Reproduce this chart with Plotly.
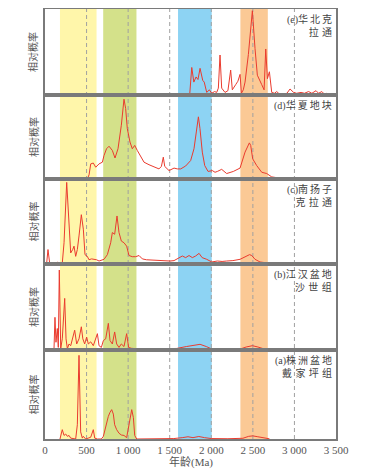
import plotly.graph_objects as go
from plotly.subplots import make_subplots

# ---- data (age in Ma, relative probability 0..1 of panel height) ----
e_age = [1740, 1765, 1790, 1817, 1840, 1865, 1897, 1915, 1945, 1977, 2005, 2040, 2065, 2085,
         2105, 2125, 2165, 2200, 2233, 2253, 2293, 2320, 2346, 2362, 2385, 2406, 2446, 2494,
         2526, 2554, 2607, 2635, 2655, 2675, 2699, 2727, 2760, 2787, 2820, 2867, 2910, 2947,
         2990, 3027, 3080, 3120, 3170, 3210, 3260, 3290, 3330, 3360, 3389]
e_val = [0.0, 0.32, 0.15, 0.21, 0.18, 0.31, 0.17, 0.15, 0.03, 0.06, 0.02, 0.04, 0.03, 0.08,
         0.465, 0.08, 0.03, 0.05, 0.29, 0.06, 0.12, 0.16, 0.24, 0.02, 0.06, 0.15, 0.47, 0.98,
         0.54, 0.23, 0.12, 0.06, 0.535, 0.19, 0.27, 0.03, 0.02, 0.04, 0.01, 0.01, 0.02, 0.07,
         0.03, 0.02, 0.03, 0.02, 0.04, 0.02, 0.05, 0.02, 0.04, 0.01, 0.02]

d_age = [509, 530, 550, 581, 610, 650, 690, 710, 740, 770, 810, 842, 878, 918, 950, 970, 990,
         1022, 1050, 1079, 1110, 1151, 1191, 1251, 1311, 1371, 1400, 1423, 1440, 1492, 1552,
         1592, 1632, 1692, 1752, 1792, 1820, 1845, 1864, 1892, 1921, 1961, 2013, 2045, 2073,
         2125, 2185, 2265, 2346, 2406, 2458, 2474, 2498, 2546, 2607, 2667, 2727, 2827, 2950,
         3050, 3200, 3300, 3460]
d_val = [0.0, 0.05, 0.18, 0.19, 0.14, 0.18, 0.20, 0.28, 0.36, 0.39, 0.34, 0.25, 0.36, 0.64,
         0.95, 0.84, 0.60, 0.44, 0.36, 0.40, 0.34, 0.26, 0.20, 0.17, 0.14, 0.12, 0.15, 0.26,
         0.15, 0.10, 0.13, 0.12, 0.12, 0.155, 0.22, 0.36, 0.56, 0.74, 0.60, 0.32, 0.16, 0.09,
         0.10, 0.08, 0.09, 0.115, 0.065, 0.09, 0.13, 0.32, 0.43, 0.40, 0.24, 0.16, 0.08, 0.065,
         0.025, 0.01, 0.015, 0.01, 0.015, 0.01, 0.005]

c_age = [0, 20, 36, 56, 100, 150, 208, 229, 261, 289, 309, 333, 349, 369, 389, 409, 437, 461,
         481, 509, 529, 560, 589, 620, 650, 710, 750, 790, 810, 838, 866, 890, 918, 950, 982,
         1010, 1050, 1091, 1131, 1171, 1220, 1271, 1330, 1392, 1450, 1504, 1552, 1612, 1652,
         1692, 1732, 1772, 1812, 1853, 1890, 1945, 2005, 2073, 2130, 2185, 2260, 2346, 2400,
         2426, 2460, 2487, 2526, 2586, 2647, 2707, 2800, 2950, 3100, 3188]
c_val = [0.01, 0.01, 0.17, 0.01, 0.01, 0.02, 0.01, 0.25, 0.96, 0.45, 0.13, 0.17, 0.21, 0.09,
         0.17, 0.33, 0.58, 0.41, 0.11, 0.09, 0.05, 0.06, 0.055, 0.05, 0.035, 0.055, 0.11, 0.25,
         0.37, 0.35, 0.565, 0.37, 0.27, 0.25, 0.21, 0.10, 0.086, 0.086, 0.10, 0.06, 0.05, 0.047,
         0.04, 0.036, 0.04, 0.035, 0.04, 0.075, 0.094, 0.075, 0.10, 0.075, 0.094, 0.125, 0.075,
         0.055, 0.024, 0.035, 0.03, 0.035, 0.04, 0.055, 0.08, 0.10, 0.11, 0.10, 0.055, 0.024,
         0.016, 0.008, 0.01, 0.008, 0.01, 0.008]

b_age = [108, 120, 132, 148, 160, 172, 189, 208, 237, 253, 269, 289, 309, 329, 357, 381, 409,
         437, 455, 477, 501, 521, 550, 581, 610, 630, 650, 678, 702, 730, 762, 782, 810, 838,
         862, 890, 918, 950, 982, 1006, 1038, 1151, 1271, 1400, 1520, 1584, 1700, 1800, 1865,
         1940, 2005, 2100, 2250, 2350, 2420, 2494, 2560, 2650, 2700]
b_val = [0.0, 0.38, 0.09, 0.25, 0.03, 0.93, 0.015, 0.13, 0.60, 0.13, 0.015, 0.07, 0.05, 0.13,
         0.23, 0.07, 0.13, 0.27, 0.13, 0.07, 0.15, 0.07, 0.095, 0.05, 0.13, 0.19, 0.05, 0.03,
         0.11, 0.13, 0.31, 0.11, 0.07, 0.21, 0.07, 0.03, 0.07, 0.04, 0.19, 0.03, 0.02, 0.01,
         0.01, 0.012, 0.015, 0.018, 0.04, 0.06, 0.066, 0.04, 0.012, 0.008, 0.008, 0.012, 0.035,
         0.05, 0.035, 0.008, 0.005]

a_age = [180, 208, 229, 249, 269, 289, 309, 369, 389, 409, 429, 449, 461, 489, 520, 550, 581,
         598, 630, 678, 702, 730, 762, 782, 802, 822, 838, 862, 890, 918, 950, 982, 1010, 1043,
         1063, 1079, 1103, 1300, 1550, 1650, 1720, 1780, 1850, 1920, 2000, 2200, 2380, 2450,
         2500, 2560, 2650, 2700]
a_val = [0.0, 0.105, 0.04, 0.056, 0.03, 0.04, 0.01, 0.0, 0.16, 0.94, 0.08, 0.01, 0.03, 0.0,
         0.01, 0.02, 0.105, 0.01, 0.0, 0.0, 0.03, 0.14, 0.255, 0.30, 0.33, 0.28, 0.16, 0.105,
         0.065, 0.045, 0.04, 0.015, 0.16, 0.33, 0.24, 0.04, 0.0, 0.003, 0.005, 0.015, 0.025,
         0.015, 0.028, 0.015, 0.005, 0.003, 0.008, 0.03, 0.035, 0.025, 0.005, 0.002]

# panel captions, (first line, second line)
panel_labels = [('(e)华北克', '拉通'), ('(d)华夏地块', ''), ('(c)南扬子', '克拉通'),
                ('(b)江汉盆地', '沙世组'), ('(a)株洲盆地', '戴家坪组')]

# age bands highlighted (Ma)
band_ranges = [(180, 620), (700, 1100), (1600, 2005), (2350, 2680)]
band_colors = ['#fff6aa', '#d4e18a', '#8dd3f3', '#fbc995']
dash_ages = [500, 1000, 1500, 2000, 2500, 3000]

tick_vals = [0, 500, 1000, 1500, 2000, 2500, 3000, 3500]
tick_text = ['0', '500', '1 000', '1 500', '2 000', '2 500', '3 000', '3 500']

series = [(e_age, e_val), (d_age, d_val), (c_age, c_val), (b_age, b_val), (a_age, a_val)]


def spaced(s, gap):
    """put a small gap between CJK characters (keeps the '(x)' prefix tight)"""
    if s.startswith('('):
        head, rest = s[:3], s[3:]
    else:
        head, rest = '', s
    return head + gap.join(rest)


fig = make_subplots(rows=5, cols=1, shared_xaxes=True, vertical_spacing=0,
                    row_heights=[86, 84, 85, 86, 89])

for i, (ages, vals) in enumerate(series):
    fig.add_trace(go.Scatter(
        x=ages, y=vals, mode='lines',
        line=dict(color='#ea3b2e', width=1),
        hoverinfo='skip', showlegend=False
    ), row=i + 1, col=1)

# colour bands
for (x0, x1), col in zip(band_ranges, band_colors):
    fig.add_shape(type='rect', xref='x5', yref='paper', x0=x0, x1=x1, y0=0, y1=1,
                  fillcolor=col, line=dict(width=0), layer='below')

# dashed reference lines
for xa in dash_ages:
    fig.add_shape(type='line', xref='x5', yref='paper', x0=xa, x1=xa, y0=0, y1=1,
                  line=dict(color='#a0a0a0', width=1, dash='4px,3px'), layer='below')

# panel labels and y titles
for i, (l1, l2) in enumerate(panel_labels):
    yref = 'y domain' if i == 0 else f'y{i + 1} domain'
    text = spaced(l1, '\u2009')
    if l2:
        text += '<br>' + spaced(l2, '\u2004')
    fig.add_annotation(text=text, xref='paper', yref=yref, x=1, y=1,
                       xanchor='right', yanchor='top', xshift=-2, yshift=-2,
                       align='right', showarrow=False,
                       font=dict(family='Liberation Serif, Noto Sans CJK SC', size=10,
                                 color='#444'))
    fig.add_annotation(text='相对概率', xref='paper', yref=yref, x=-0.041, y=0.5,
                       xanchor='center', yanchor='middle', textangle=-90,
                       showarrow=False,
                       font=dict(family='Noto Sans CJK SC', size=10, color='#555'))

# x-axis title
fig.add_annotation(text='年龄(Ma)', xref='paper', yref='paper', x=0.5, y=-0.053,
                   xanchor='center', yanchor='middle', showarrow=False,
                   font=dict(family='Liberation Serif, Noto Sans CJK SC', size=11,
                             color='#555'))

for r in range(1, 6):
    fig.update_yaxes(range=[0, 1.0], showticklabels=False, ticks='', showgrid=False,
                     zeroline=False, showline=True, mirror=True, linecolor='#7a7a7a',
                     linewidth=1.5, automargin=False, row=r, col=1)
    fig.update_xaxes(range=[0, 3500], showgrid=False, zeroline=False, showline=True,
                     mirror=True, linecolor='#7a7a7a', linewidth=1.5, ticks='',
                     automargin=False, row=r, col=1)

fig.update_xaxes(tickvals=tick_vals, ticktext=tick_text, showticklabels=True,
                 tickfont=dict(family='Liberation Serif', size=11, color='#555'),
                 row=5, col=1)

# page body keeps an 8px margin, so the figure is 8px smaller than the window
fig.update_layout(
    width=362, height=463,
    margin=dict(l=37, r=34, t=1, b=32, autoexpand=False),
    plot_bgcolor='white', paper_bgcolor='white',
    showlegend=False
)

fig.write_html("out.html")
